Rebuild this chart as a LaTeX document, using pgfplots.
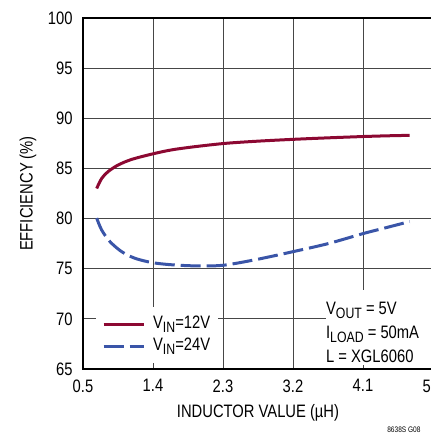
\documentclass[border=0pt]{standalone}
\usepackage{fontspec}
\setmainfont{Liberation Sans}[FakeStretch=0.82]
\usepackage{pgfplots}
\pgfplotsset{compat=1.18}
\definecolor{vredc}{RGB}{140,8,50}
\definecolor{vbluec}{RGB}{58,85,168}
\definecolor{gridc}{RGB}{70,70,70}
\newcommand{\sub}[1]{\raisebox{-4pt}{\fontsize{15}{15}\selectfont #1}}
\begin{document}
\begin{tikzpicture}
\begin{axis}[
    name=ax,
    scale only axis,
    width=350pt, height=351pt,
    xmin=0.5, xmax=5.0, ymin=65, ymax=100,
    xtick={0.5,1.4,2.3,3.2,4.1,5.0},
    xticklabels={0.5,1.4,2.3,3.2,4.1,5.0},
    ytick={65,70,75,80,85,90,95,100},
    /pgf/number format/assume math mode=true,
    ticklabel style={font=\fontsize{18}{20}\selectfont},
    yticklabel style={xshift=-7pt},
    xticklabel style={yshift=-7pt},
    grid=major,
    major grid style={gridc, line width=0.9pt},
    major tick length=5pt,
    tick style={gridc, line width=0.9pt},
    axis line style={black, line width=2.2pt},
    every axis y label/.style={at={(axis description cs:-0.157,0.5)}, rotate=90, anchor=center},
    every axis x label/.style={at={(axis description cs:0.5,-0.124)}, anchor=center},
    label style={font=\fontsize{18}{20}\selectfont},
    xlabel={INDUCTOR VALUE (µH)},
    ylabel={EFFICIENCY (\%)},
    clip=false,
    legend style={at={(0.037,0.177)}, anchor=north west, draw=none, fill=white,
        inner xsep=6pt, inner ysep=6pt, row sep=0pt,
        font=\fontsize{18}{18}\selectfont, cells={anchor=west},
        nodes={inner sep=2pt, text height=13pt, text depth=5pt},
        /tikz/every odd column/.style={column sep=6pt}},
    legend image code/.code={\draw[#1] (0pt,0pt) -- (40pt,0pt);},
]
\addplot[vredc, line width=3pt, smooth] coordinates {
    (0.676,83.0) (0.74,84.0) (0.825,84.7) (0.954,85.35) (1.126,85.9)
    (1.396,86.45) (1.64,86.85) (1.94,87.17) (2.33,87.5)
    (2.75,87.72) (3.2,87.9) (3.65,88.05) (4.1,88.18) (4.4,88.25) (4.7,88.3)
};
\addlegendentry{V\sub{IN}=12V}
\addplot[vbluec, line width=3pt, smooth, dash pattern=on 20pt off 6pt] coordinates {
    (0.676,80.05) (0.74,78.86) (0.847,77.7) (0.997,76.7) (1.168,76.04)
    (1.396,75.6) (1.68,75.37) (2.03,75.27) (2.33,75.37) (2.75,75.95)
    (3.2,76.7) (3.65,77.5) (4.1,78.5) (4.4,79.1) (4.7,79.7)
};
\addlegendentry{V\sub{IN}=24V}
\fill[white] (rel axis cs:0.694,0.012) rectangle (rel axis cs:1,0.225);
\node[anchor=north west, align=left, inner sep=0pt, font=\fontsize{18}{24}\selectfont]
    at (rel axis cs:0.694,0.191)
    {V\sub{OUT} = 5V\\I\sub{LOAD} = 50mA\\L = XGL6060};
\node[anchor=west, inner sep=0pt, font=\fontsize{8}{8}\selectfont]
    at (rel axis cs:0.869,-0.174) {8638S G08};
\end{axis}
\pgfresetboundingbox
\path ([xshift=-83pt,yshift=-65pt]ax.south west) rectangle ([xshift=348pt,yshift=18pt]ax.north west);
\end{tikzpicture}
\end{document}
